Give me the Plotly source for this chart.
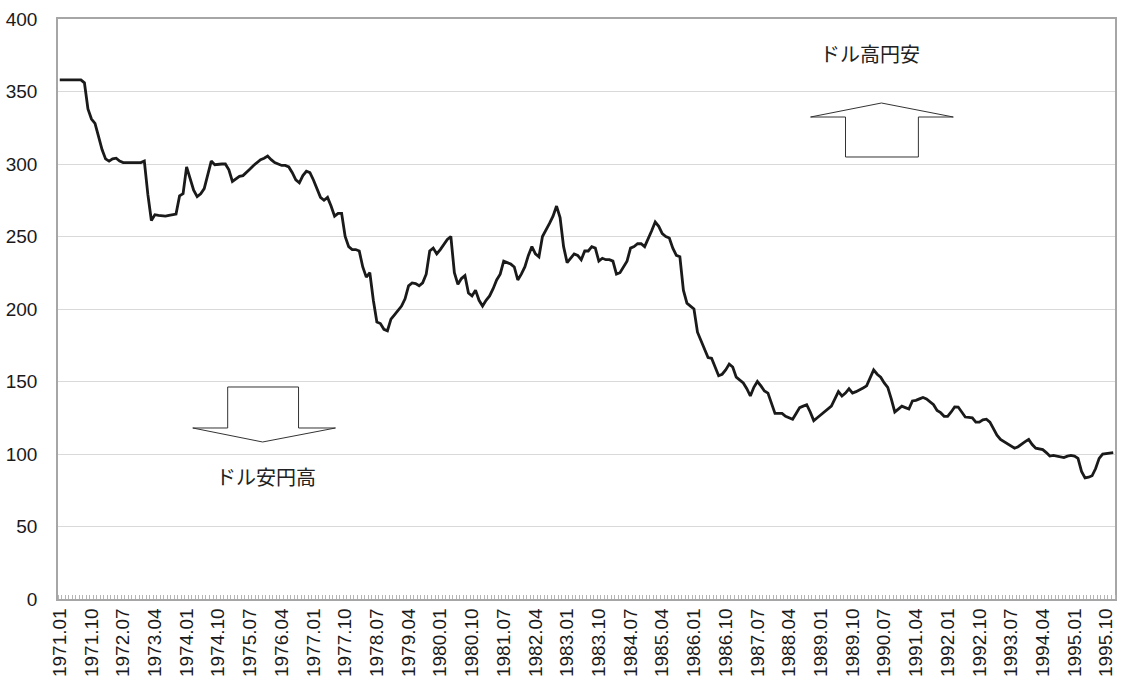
import plotly.graph_objects as go

# Monthly USD/JPY rate, January 1971 - December 1995 (yen per dollar)
years = list(range(1971, 1996))
months = [f"{y}.{m:02d}" for y in years for m in range(1, 13)]

rate_by_year = {
    1971: [358, 358, 358, 358, 358, 358, 358, 356, 338, 331, 328, 319],
    1972: [310, 303.5, 302, 303.5, 304, 302, 301, 301, 301, 301, 301, 301],
    1973: [302, 279, 261, 265, 264.5, 264, 264, 264.5, 265, 265.5, 278, 279.5],
    1974: [298, 290, 282, 277.5, 279.5, 283, 293, 302, 299.5, 300, 300, 300],
    1975: [296, 288, 290, 291.5, 292, 294, 296.5, 299, 301, 303, 304, 305.5],
    1976: [303, 301, 300, 299, 299, 298, 294, 289, 287, 292, 295, 294],
    1977: [289, 283, 277, 275, 277, 271, 264, 266, 266, 250, 243, 241],
    1978: [241, 240, 229, 222, 225, 206, 191, 190, 186, 185, 193, 196],
    1979: [199, 202, 207, 216, 218, 217.5, 216, 218, 224, 240, 242, 238],
    1980: [241, 245, 248, 250, 225, 217, 221, 223, 211, 209, 213, 206],
    1981: [202, 206, 209, 214, 220, 224, 233, 232, 231, 229, 220, 224],
    1982: [229, 237, 243, 238, 236, 250, 254, 259, 264, 271, 263, 243],
    1983: [232, 235, 238, 237, 234, 240, 240, 243, 242, 233, 235, 234],
    1984: [234, 233, 224, 225, 229, 233, 242, 243, 245, 245, 243, 248],
    1985: [254, 260, 257, 252, 250, 249, 242, 237, 236, 213, 204, 202],
    1986: [200, 184, 178, 172, 166.5, 166, 160, 154, 155, 158, 162, 160],
    1987: [153, 151, 149, 145, 140, 146, 150, 147, 143.5, 142, 135, 128],
    1988: [128, 128, 126, 125, 124, 128, 132, 133, 134, 129, 123, 125],
    1989: [127, 129, 131, 133, 138, 143, 140, 142, 145, 142, 143, 144],
    1990: [145.5, 147, 153, 158, 155, 153, 149, 146, 138, 129, 131, 133],
    1991: [132, 131, 136.6, 137, 138, 139, 138, 136, 134, 130, 128.5, 126],
    1992: [126, 129, 132.5, 132.4, 129, 125.5, 125.3, 125, 122, 122, 123.5, 124],
    1993: [122, 117, 113, 110, 108.5, 107, 105, 104, 105, 107, 108.5, 110],
    1994: [106.5, 104, 103.5, 103, 101, 98.6, 99, 98.5, 98, 97.5, 98.5, 99],
    1995: [98.5, 97, 88, 83.5, 84, 85, 90, 97, 100, 100.5, 101, 101],
}
rates = [v for y in years for v in rate_by_year[y]]

# x-axis labels every nine months
label_step = 9
tick_idx = list(range(0, len(months), label_step))
tick_txt = [months[i] for i in tick_idx]

y_ticks = [0, 50, 100, 150, 200, 250, 300, 350, 400]

# plot-area geometry (pixels) used to place the annotation arrows
W, H = 1121, 688
L, R, T, B = 58, 4, 19, 89
PW, PH = W - L - R, H - T - B


def px(x, y):
    return (x - L) / PW, (H - B - y) / PH


def path_from(points):
    coords = [px(x, y) for x, y in points]
    d = "M " + " L ".join(f"{a:.5f},{b:.5f}" for a, b in coords) + " Z"
    return d


up_arrow = [(847, 157), (847, 117), (812, 117), (883, 103),
            (955, 117), (920, 117), (920, 157)]
down_arrow = [(228, 387), (228, 428), (193, 428), (263, 442),
              (336, 428), (299, 428), (299, 387)]

fig = go.Figure()
fig.add_trace(go.Scatter(
    x=list(range(len(months))), y=rates, mode="lines",
    line=dict(color="#1a1a1a", width=2.8),
    hovertext=months, hoverinfo="text+y", showlegend=False,
))

axis_font = dict(family="Liberation Sans, Arial, sans-serif", size=19, color="#1a1a1a")
border = "#a6a6a6"


def label(text, x, y):
    ax, ay = px(x, y)
    return dict(text=text, xref="paper", yref="paper", x=ax, y=ay,
                xanchor="center", yanchor="middle", showarrow=False,
                font=dict(family="Noto Sans CJK JP", size=20, color="#222222"))


fig.update_layout(
    width=W, height=H,
    margin=dict(l=L, r=R, t=T, b=B, pad=0),
    paper_bgcolor="white", plot_bgcolor="white",
    xaxis=dict(
        range=[-0.5, len(months) - 0.5],
        tickmode="array", tickvals=tick_idx, ticktext=tick_txt,
        tickangle=-90, tickfont=axis_font, ticks="",
        ticklabelstandoff=0,
        showgrid=False, zeroline=False,
        showline=True, linecolor=border, linewidth=1.5, mirror=True,
        minor=dict(ticks="inside", tick0=-0.5, dtick=1, ticklen=4,
                   tickcolor="#b5b5b5", tickwidth=1, showgrid=False),
    ),
    yaxis=dict(
        range=[0, 400], tickmode="array", tickvals=y_ticks,
        tickfont=axis_font, ticks="", ticklabelstandoff=15,
        showgrid=True, gridcolor="#d9d9d9", gridwidth=1,
        zeroline=False,
        showline=True, linecolor=border, linewidth=1.5, mirror=True,
    ),
    shapes=[
        dict(type="path", xref="paper", yref="paper", path=path_from(up_arrow),
             line=dict(color="#333333", width=1), fillcolor="rgba(0,0,0,0)"),
        dict(type="path", xref="paper", yref="paper", path=path_from(down_arrow),
             line=dict(color="#333333", width=1), fillcolor="rgba(0,0,0,0)"),
    ],
    annotations=[
        label("ドル高円安", 872, 54),
        label("ドル安円高", 266, 476),
    ],
)

fig.write_html("out.html")
